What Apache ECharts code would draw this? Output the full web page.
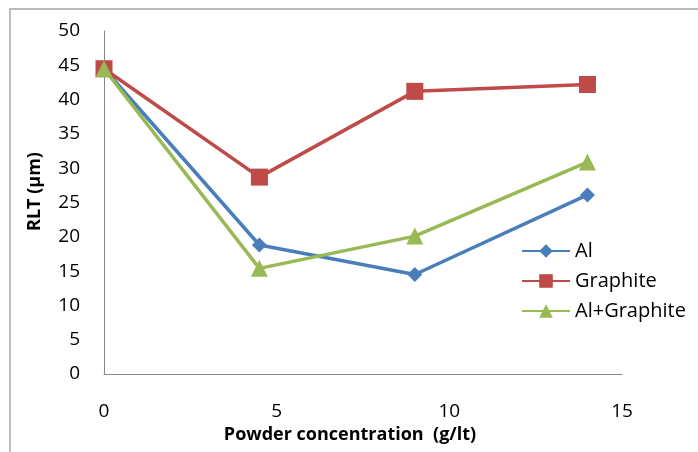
<!DOCTYPE html>
<html>
<head>
<meta charset="utf-8">
<script src="https://cdn.jsdelivr.net/npm/echarts@6/dist/echarts.min.js"></script>
<style>html,body{margin:0;padding:0;background:#fff;}#c{width:698px;height:452px;}</style>
</head>
<body>
<div id="c"></div>
<script>
var xValues = [0, 4.5, 9, 14];
var alValues = [44.5, 18.8, 14.5, 26.1];
var graphiteValues = [44.5, 28.7, 41.2, 42.2];
var alGraphiteValues = [44.5, 15.4, 20.1, 30.9];
var seriesNames = ['Al', 'Graphite', 'Al+Graphite'];

function pairs(vals) { return xValues.map(function (x, i) { return [x, vals[i]]; }); }

var chart = echarts.init(document.getElementById('c'));
var font = 'Open Sans';
chart.setOption({
  animation: false,
  backgroundColor: '#fff',
  graphic: [{
    type: 'rect', silent: true,
    shape: { x: 10, y: 9, width: 720, height: 480 },
    style: { fill: 'none', stroke: '#a6a6a6', lineWidth: 1.5 }
  }],
  grid: { left: 104, top: 31, right: 76, bottom: 78 },
  xAxis: {
    type: 'value', min: 0, max: 15, interval: 5,
    axisLine: { show: true, lineStyle: { color: '#868686', width: 1 } },
    axisTick: { show: false },
    splitLine: { show: false },
    axisLabel: { margin: 28, color: '#000', fontFamily: font, fontSize: 19 },
    name: 'Powder concentration  (g/lt)',
    nameLocation: 'middle', nameGap: 52,
    nameTextStyle: { color: '#000', fontFamily: font, fontSize: 18, fontWeight: 'bold', padding: [0, 26, 0, 0] }
  },
  yAxis: {
    type: 'value', min: 0, max: 50, interval: 5,
    axisLine: { show: true, lineStyle: { color: '#868686', width: 1 } },
    axisTick: { show: false },
    splitLine: { show: false },
    axisLabel: { margin: 24, color: '#000', fontFamily: font, fontSize: 19 },
    name: 'RLT (\u03bcm)',
    nameLocation: 'middle', nameGap: 60,
    nameTextStyle: { color: '#000', fontFamily: font, fontSize: 18, fontWeight: 'bold', padding: [0, 0, 0, 22] }
  },
  legend: {
    orient: 'vertical', left: 516, top: 236,
    itemWidth: 48, itemHeight: 17, itemGap: 10,
    textStyle: { fontFamily: font, fontSize: 20, color: '#000', lineHeight: 20 },
    data: seriesNames
  },
  series: [
    { name: seriesNames[0], type: 'line', data: pairs(alValues), symbol: 'diamond', symbolSize: 15,
      itemStyle: { color: '#4a7ebb' }, lineStyle: { color: '#4a7ebb', width: 3.5 } },
    { name: seriesNames[1], type: 'line', data: pairs(graphiteValues), symbol: 'rect', symbolSize: 17,
      itemStyle: { color: '#be4b48' }, lineStyle: { color: '#be4b48', width: 3.5 } },
    { name: seriesNames[2], type: 'line', data: pairs(alGraphiteValues), symbol: 'triangle', symbolSize: 17,
      itemStyle: { color: '#98b954' }, lineStyle: { color: '#98b954', width: 3.5 } }
  ]
});
</script>
</body>
</html>
